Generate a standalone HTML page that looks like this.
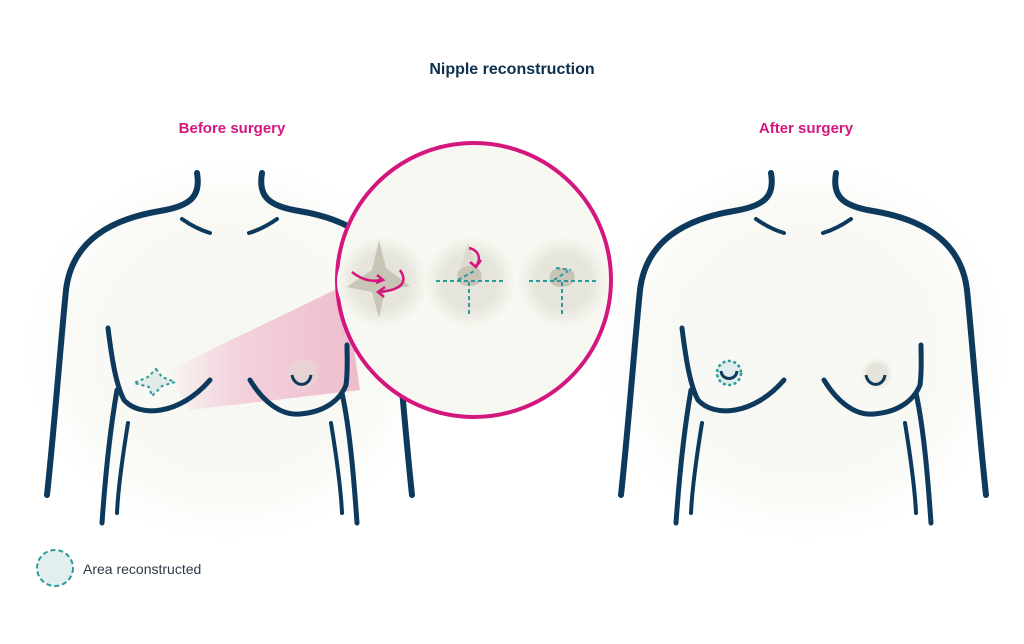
<!DOCTYPE html>
<html><head><style>
html,body{margin:0;padding:0;background:#fff;}
svg{display:block;font-family:"Liberation Sans",sans-serif;}
</style></head><body>
<svg width="1024" height="644" viewBox="0 0 1024 644" xmlns="http://www.w3.org/2000/svg">
<defs>
<radialGradient id="bg" cx="0.5" cy="0.5" r="0.5">
<stop offset="0" stop-color="#f7f7f2"/><stop offset="0.75" stop-color="#f9f9f5"/><stop offset="1" stop-color="#ffffff" stop-opacity="0"/>
</radialGradient>
<linearGradient id="wedge" x1="0" y1="0" x2="1" y2="0">
<stop offset="0" stop-color="#f3d6df" stop-opacity="0"/><stop offset="0.35" stop-color="#f3d3dd"/><stop offset="1" stop-color="#eebccc"/>
</linearGradient>
<radialGradient id="spot"><stop offset="0.6" stop-color="#e6e5dc"/><stop offset="1" stop-color="#f7f7f1"/></radialGradient>
<radialGradient id="nip"><stop offset="0.6" stop-color="#e6d3d2"/><stop offset="1" stop-color="#efdde0" stop-opacity="0"/></radialGradient>
<radialGradient id="nip2"><stop offset="0.6" stop-color="#e6e4da"/><stop offset="1" stop-color="#f4f3ee" stop-opacity="0"/></radialGradient>
<ellipse id="glow" cx="230" cy="350" rx="215" ry="200" fill="url(#bg)"/>
<g id="torso" fill="none" stroke="#0d3a5c" stroke-linecap="round">
<path d="M197,173 C201,196 191,206 160,211 C112,219 72,240 66,290 C60,350 55,420 47,495" stroke-width="6"/>
<path d="M262,173 C258,196 268,206 299,211 C347,219 387,240 393,290 C399,350 404,420 412,495" stroke-width="6"/>
<path d="M182,219 C192,226 200,230 210,233" stroke-width="4"/>
<path d="M277,219 C267,226 259,230 249,233" stroke-width="4"/>
<path d="M108,328 C112,360 116,385 124,400 C140,418 180,415 210,380" stroke-width="5"/>
<path d="M250,380 C262,400 280,416 300,414 C325,412 340,400 346,385 C348,370 347,355 347,345" stroke-width="5"/>
<path d="M117,390 C110,430 105,480 102,523" stroke-width="5"/>
<path d="M128,423 C122,460 118,490 117,513" stroke-width="4"/>
<path d="M342,393 C350,430 354,480 357,523" stroke-width="5"/>
<path d="M331,423 C337,460 341,490 342,513" stroke-width="4"/>
</g>
</defs>

<text x="512" y="74" text-anchor="middle" font-size="16" font-weight="bold" fill="#0d2f4f">Nipple reconstruction</text>
<text x="232" y="133" text-anchor="middle" font-size="15" font-weight="bold" fill="#d4177f">Before surgery</text>
<text x="806" y="133" text-anchor="middle" font-size="15" font-weight="bold" fill="#d4177f">After surgery</text>

<!-- left torso -->
<use href="#glow"/>
<polygon points="165,372 345,285 360,390 190,410" fill="url(#wedge)"/>
<circle cx="303" cy="374" r="17" fill="url(#nip)"/>
<use href="#torso"/>
<path d="M292,375 C294,387 309,388 311,375" fill="none" stroke="#0d3a5c" stroke-width="3"/>
<path d="M156,369 L162,377 L175,382 L162,386 L152,396 L149,387 L134,383 L148,377 Z" fill="#e3ebe9" stroke="#2a9a9a" stroke-width="2" stroke-dasharray="3,3"/>

<!-- right torso -->
<g transform="translate(574,0)">
<use href="#glow"/>
<circle cx="303" cy="374" r="17" fill="url(#nip2)"/>
<use href="#torso"/>
<path d="M292,375 C294,387 309,388 311,375" fill="none" stroke="#0d3a5c" stroke-width="3"/>
<circle cx="155" cy="373" r="12" fill="#e1ecec" stroke="#2a9a9a" stroke-width="2.5" stroke-dasharray="3,2.5"/>
<path d="M147,371 C148,381 162,381 163,371" fill="none" stroke="#0d3a5c" stroke-width="3"/>
</g>

<!-- zoom circle -->
<circle cx="474" cy="280" r="137" fill="#f8f8f3" stroke="#d4177f" stroke-width="4"/>
<circle cx="382" cy="282" r="45" fill="url(#spot)"/>
<circle cx="470" cy="282" r="45" fill="url(#spot)"/>
<circle cx="563" cy="282" r="45" fill="url(#spot)"/>
<path d="M379,240 L386,268 L410,286 L385,290 L379,318 L372,292 L347,287 L372,270 Z" fill="#c8c5b6"/>
<path d="M352,272 C362,280 372,282 381,280" fill="none" stroke="#d4177f" stroke-width="2.5"/>
<path d="M377,275 L383,280 L376,283" fill="none" stroke="#d4177f" stroke-width="2.5"/>
<path d="M400,270 C408,282 402,290 379,292" fill="none" stroke="#d4177f" stroke-width="2.5"/>
<path d="M385,287 L378,292 L384,297" fill="none" stroke="#d4177f" stroke-width="2.5"/>
<path d="M468,243 L478,268 L460,270 Z" fill="#dcdacd"/>
<path d="M458,272 C462,264 478,264 481,272 C484,282 476,287 468,286 C460,286 455,280 458,272 Z" fill="#c8c5b6"/>
<path d="M469,248 C478,250 482,258 476,266" fill="none" stroke="#d4177f" stroke-width="2.5"/>
<path d="M470,262 L476,267 L481,260" fill="none" stroke="#d4177f" stroke-width="2.5"/>
<path d="M436,281 L505,281 M469,282 L469,317 M458,280 L476,270" fill="none" stroke="#2a9a9a" stroke-width="2" stroke-dasharray="4,3"/>
<path d="M550,274 C553,266 570,266 574,273 C577,282 570,287 561,287 C552,287 548,281 550,274 Z" fill="#c8c5b6"/>
<path d="M529,281 L598,281 M562,282 L562,317 M554,280 L568,271 M556,268 L571,270" fill="none" stroke="#2a9a9a" stroke-width="2" stroke-dasharray="4,3"/>

<!-- legend -->
<circle cx="55" cy="568" r="18" fill="#e3eeee" stroke="#2a9a9a" stroke-width="2" stroke-dasharray="5,3"/>
<text x="83" y="574" font-size="14" fill="#2b3a48">Area reconstructed</text>
</svg>
</body></html>
